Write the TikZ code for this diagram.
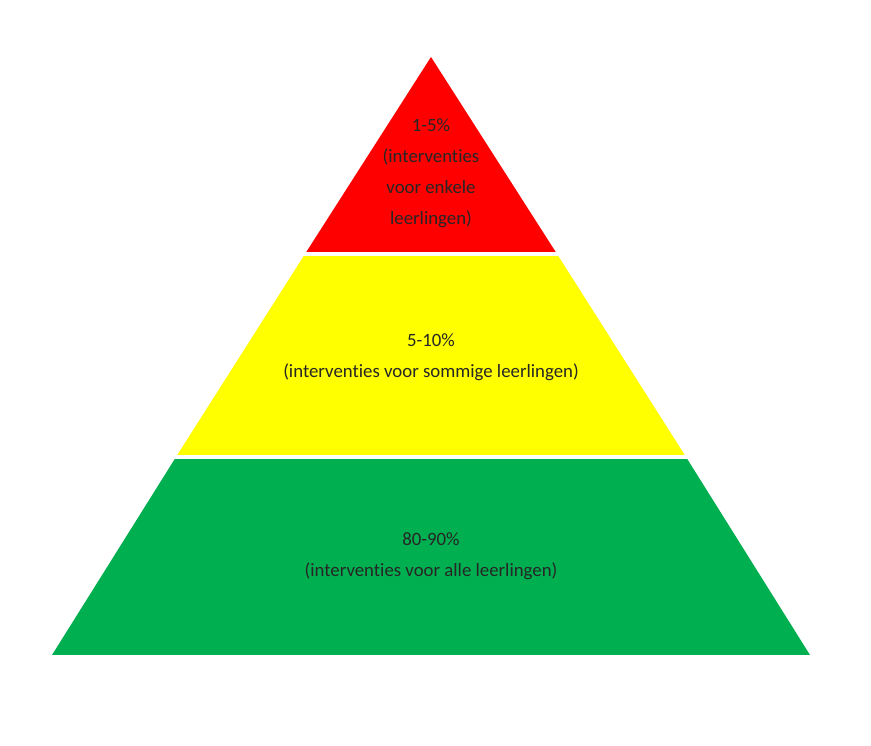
\documentclass[tikz,border=0pt]{standalone}
\usepackage{fontspec}
\setmainfont{Carlito}[Ligatures=NoCommon]
\usepackage{tikz}

\definecolor{tierred}{HTML}{FF0000}
\definecolor{tieryellow}{HTML}{FFFF00}
\definecolor{tiergreen}{HTML}{00B050}

\begin{document}
\begin{tikzpicture}[
    x=1pt, y=1pt,
    tier/.style={draw=none},
    gap/.style={draw=white, line width=3.5pt},
    lbl/.style={font=\fontsize{18.8}{31}\selectfont, text=black!85, align=center, inner sep=0pt}
]
\useasboundingbox (0,0) rectangle (871,746);
\fill[white] (0,0) rectangle (871,746);
% pyramid tiers
\fill[tier, tiergreen] (176,289) -- (686,289) -- (810,91) -- (52,91) -- cycle;
\fill[tier, tieryellow] (305,492) -- (557,492) -- (686,289) -- (176,289) -- cycle;
\fill[tier, tierred] (431,689) -- (557,492) -- (305,492) -- cycle;
% white gaps between tiers
\draw[gap] (290,492) -- (572,492);
\draw[gap] (160,289) -- (702,289);
% labels
\node[lbl] (top) at (431,573) {1-5\%\\(interventies\\voor enkele\\leerlingen)};
\node[lbl] (middle) at (431,389) {5-10\%\\(interventies voor sommige leerlingen)};
\node[lbl] (base) at (431,190) {80-90\%\\(interventies voor alle leerlingen)};
\end{tikzpicture}
\end{document}
